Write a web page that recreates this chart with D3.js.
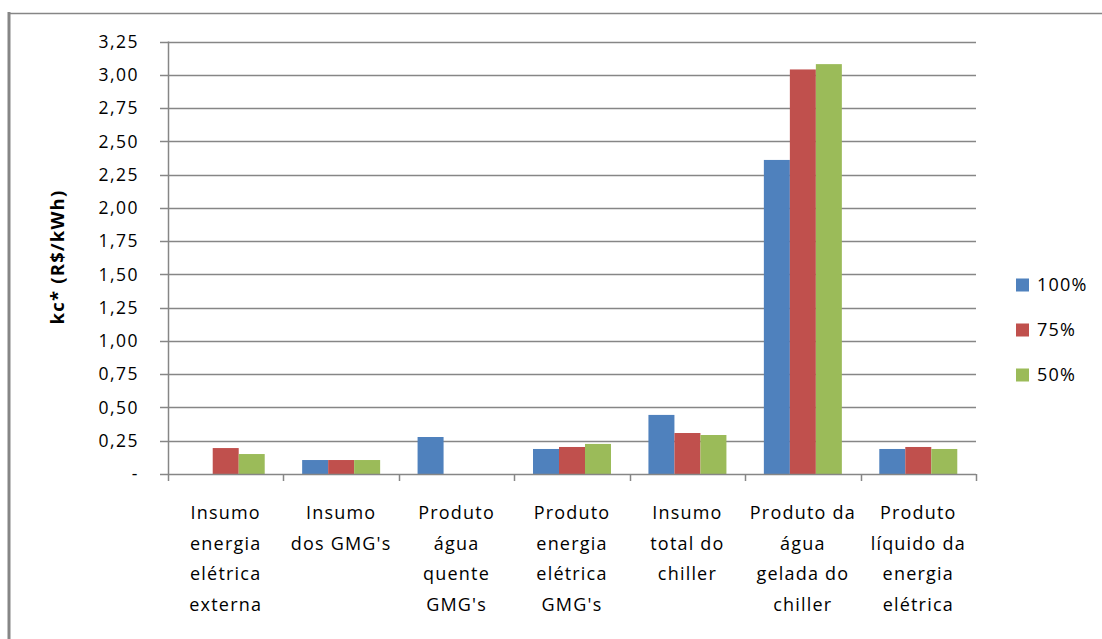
<!DOCTYPE html>
<html>
<head>
<meta charset="utf-8">
<script src="https://cdn.jsdelivr.net/npm/d3@7"></script>
<style>
  html, body { margin: 0; padding: 0; background: #fff; }
  svg { display: block; }
  text { font-family: "Open Sans", "Noto Sans", sans-serif; fill: #000; }
</style>
</head>
<body>
<svg id="chart" width="1102" height="639"></svg>
<script>
// Categories (multi-line labels) and series values in R$/kWh
const categories = [
  ["Insumo", "energia", "elétrica", "externa"],
  ["Insumo", "dos GMG's"],
  ["Produto", "água", "quente", "GMG's"],
  ["Produto", "energia", "elétrica", "GMG's"],
  ["Insumo", "total do", "chiller"],
  ["Produto da", "água", "gelada do", "chiller"],
  ["Produto", "líquido da", "energia", "elétrica"]
];
const seriesNames = ["100%", "75%", "50%"];
const values100 = [0, 0.105, 0.278, 0.188, 0.444, 2.36, 0.188];
const values75  = [0.195, 0.105, 0, 0.203, 0.308, 3.04, 0.203];
const values50  = [0.150, 0.105, 0, 0.226, 0.293, 3.08, 0.188];
const seriesColors = ["#4f81bd", "#c0504d", "#9bbb59"];
const yTicks = [0, 0.25, 0.5, 0.75, 1, 1.25, 1.5, 1.75, 2, 2.25, 2.5, 2.75, 3, 3.25];
const yTickLabels = ["-", "0,25", "0,50", "0,75", "1,00", "1,25", "1,50", "1,75", "2,00", "2,25", "2,50", "2,75", "3,00", "3,25"];
const yTitle = "kc* (R$/kWh)";

const series = [values100, values75, values50];
const svg = d3.select("#chart");
const grid = "#868686";

// outer frame (left and top edges)
svg.append("line").attr("x1", 9).attr("x2", 9).attr("y1", 12).attr("y2", 639)
  .attr("stroke", grid).attr("stroke-width", 3);
svg.append("line").attr("x1", 9).attr("x2", 1102).attr("y1", 13.5).attr("y2", 13.5)
  .attr("stroke", grid).attr("stroke-width", 1.5);

const plot = { left: 168, right: 976, top: 41.5, bottom: 474 };

const x = d3.scaleBand().domain(d3.range(categories.length))
  .range([plot.left, plot.right]).paddingInner(0).paddingOuter(0);
const y = d3.scaleLinear().domain([0, 3.25]).range([plot.bottom, plot.top]);
const inner = d3.scaleBand().domain(d3.range(series.length))
  .range([0, x.bandwidth()]).paddingInner(0).paddingOuter(0.72);

// horizontal gridlines with outward ticks
svg.append("g").selectAll("line").data(yTicks.filter(d => d > 0)).join("line")
  .attr("x1", plot.left - 8).attr("x2", plot.right)
  .attr("y1", d => Math.round(y(d)) + 0.5).attr("y2", d => Math.round(y(d)) + 0.5)
  .attr("stroke", grid).attr("stroke-width", 1.5);

// y tick labels
svg.append("g").selectAll("text").data(yTicks).join("text")
  .attr("x", 139).attr("y", d => y(d))
  .attr("dy", "0.36em")
  .attr("text-anchor", "end")
  .attr("font-size", 17.5).attr("letter-spacing", 1.5)
  .text((d, i) => yTickLabels[i]);

// bars
series.forEach((vals, s) => {
  svg.append("g").selectAll("rect").data(vals).join("rect")
    .attr("x", (d, i) => x(i) + inner(s))
    .attr("width", inner.bandwidth())
    .attr("y", d => y(d))
    .attr("height", d => y(0) - y(d))
    .attr("fill", seriesColors[s]);
});

// axes lines
svg.append("line").attr("x1", plot.left - 8).attr("x2", plot.right)
  .attr("y1", plot.bottom + 0.5).attr("y2", plot.bottom + 0.5)
  .attr("stroke", grid).attr("stroke-width", 1.5);
svg.append("line").attr("x1", plot.left + 0.5).attr("x2", plot.left + 0.5)
  .attr("y1", plot.top).attr("y2", plot.bottom + 7)
  .attr("stroke", grid).attr("stroke-width", 1.5);
svg.append("g").selectAll("line").data(d3.range(1, categories.length + 1)).join("line")
  .attr("x1", i => Math.round(plot.left + i * x.bandwidth()) + 0.5)
  .attr("x2", i => Math.round(plot.left + i * x.bandwidth()) + 0.5)
  .attr("y1", plot.bottom).attr("y2", plot.bottom + 7)
  .attr("stroke", grid).attr("stroke-width", 1.5);

// category labels
const catG = svg.append("g").selectAll("text").data(categories).join("text")
  .attr("text-anchor", "middle").attr("font-size", 18).attr("letter-spacing", 1.2);
catG.each(function (lines, i) {
  d3.select(this).selectAll("tspan").data(lines).join("tspan")
    .attr("x", x(i) + x.bandwidth() / 2)
    .attr("y", (d, k) => 519 + k * 30.5)
    .text(d => d);
});

// y axis title
svg.append("text")
  .attr("transform", "translate(64,257) rotate(-90)")
  .attr("text-anchor", "middle").attr("font-size", 18.5).attr("font-weight", "bold")
  .attr("letter-spacing", 1.2)
  .text(yTitle);

// legend
const legend = svg.append("g").selectAll("g").data(seriesNames).join("g")
  .attr("transform", (d, i) => `translate(1016,${285 + i * 45})`);
legend.append("rect").attr("x", 0).attr("y", -6.5).attr("width", 13).attr("height", 13)
  .attr("fill", (d, i) => seriesColors[i]);
legend.append("text").attr("x", 21).attr("dy", "0.36em")
  .attr("font-size", 18).attr("letter-spacing", 1.2).text(d => d);
</script>
</body>
</html>
